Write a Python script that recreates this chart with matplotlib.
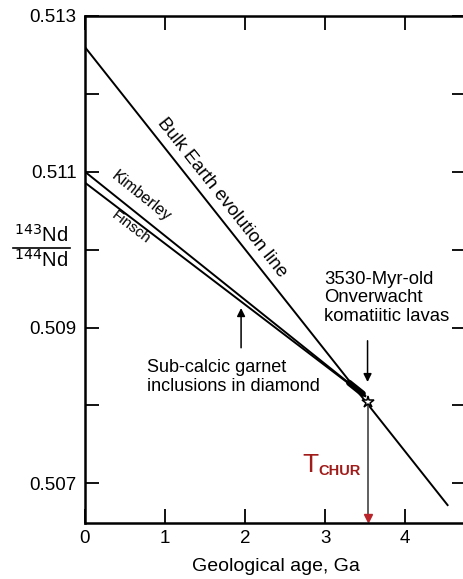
import numpy as np
import matplotlib.pyplot as plt

plt.rcParams['font.family'] = ['Liberation Sans', 'DejaVu Sans']

# data
bulk_age = [0.0, 4.53]
bulk_nd = [0.5126, 0.50672]
kimb_age = [0.0, 3.50]
kimb_nd = [0.51100, 0.50812]
finsch_age = [0.0, 3.50]
finsch_nd = [0.51086, 0.50812]
garnet_age = [3.30, 3.47]
garnet_nd = [0.50829, 0.50815]
t_chur = 3.53
t_chur_nd = 0.50805

xticks = [0, 1, 2, 3, 4]
yticks = [0.507, 0.508, 0.509, 0.510, 0.511, 0.512, 0.513]
ytick_labels = ['0.507', '', '0.509', '', '0.511', '', '0.513']

W, H = 464, 579
fig = plt.figure(figsize=(W / 100, H / 100), dpi=100)
ax = fig.add_axes([85 / W, 56 / H, 381 / W, 507 / H])

ax.set_xlim(0, 4.76)
ax.set_ylim(0.50649, 0.513)

ax.plot(bulk_age, bulk_nd, color='black', lw=1.4)
ax.plot(kimb_age, kimb_nd, color='black', lw=1.4)
ax.plot(finsch_age, finsch_nd, color='black', lw=1.4)
ax.plot(garnet_age, garnet_nd, color='black', lw=4.5, solid_capstyle='round')

# T_CHUR drop line and marker
ax.plot([t_chur, t_chur], [0.50658, t_chur_nd], color='#444444', lw=1.2)
ax.plot([t_chur], [0.50656], marker='v', ms=6, color='#b8242a', clip_on=False)
ax.plot([t_chur], [t_chur_nd], marker='*', ms=9, mfc='white', mec='black', mew=1.1)

ax.set_xticks(xticks)
ax.set_yticks(yticks)
ax.set_yticklabels(ytick_labels)
ax.tick_params(direction='in', length=10, width=1.3, labelsize=13.5,
               top=True, right=True, pad=6)
ax.tick_params(axis='x', labeltop=False, pad=5)
for s in ax.spines.values():
    s.set_linewidth(1.8)

ax.set_xlabel('Geological age, Ga', fontsize=14, labelpad=8)


def line_angle(xs, ys):
    p = ax.transData.transform(np.column_stack([xs, ys]))
    return np.degrees(np.arctan2(p[1, 1] - p[0, 1], p[1, 0] - p[0, 0]))


ax.text(1.71, 0.51066, 'Bulk Earth evolution line', fontsize=13.3,
        rotation=line_angle(bulk_age, bulk_nd), rotation_mode='anchor',
        ha='center', va='center')
ax.text(0.70, 0.51069, 'Kimberley', fontsize=11.5,
        rotation=line_angle(kimb_age, kimb_nd), rotation_mode='anchor',
        ha='center', va='center')
ax.text(0.58, 0.51028, 'Finsch', fontsize=11,
        rotation=line_angle(finsch_age, finsch_nd), rotation_mode='anchor',
        ha='center', va='center')

ax.annotate('', xy=(1.95, 0.50925), xytext=(1.95, 0.50874),
            arrowprops=dict(arrowstyle='-|>', color='black', lw=1.1,
                            mutation_scale=12, shrinkA=0, shrinkB=0))
ax.text(0.77, 0.50859, 'Sub-calcic garnet\ninclusions in diamond',
        fontsize=13, ha='left', va='top', linespacing=1.1)

ax.annotate('', xy=(t_chur, 0.50830), xytext=(t_chur, 0.50883),
            arrowprops=dict(arrowstyle='-|>', color='black', lw=1.1,
                            mutation_scale=12, shrinkA=0, shrinkB=0))
ax.text(2.99, 0.50973, '3530-Myr-old\nOnverwacht\nkomatiitic lavas',
        fontsize=13.3, ha='left', va='top', linespacing=1.12)

ax.text(2.72, 0.50714, 'T', fontsize=19, color='#a01c1a', ha='left', va='baseline')
ax.text(2.915, 0.50710, 'CHUR', fontsize=10.5, fontweight='bold', color='#a01c1a',
        ha='left', va='baseline')

# y label as stacked fraction
fig.text(41 / W, 1 - 242 / H, r'$^{143}$Nd', fontsize=14.5, ha='center', va='baseline',
         math_fontfamily='dejavusans')
fig.text(41 / W, 1 - 267 / H, r'$^{144}$Nd', fontsize=14.5, ha='center', va='baseline',
         math_fontfamily='dejavusans')
fig.add_artist(plt.Line2D([13 / W, 70 / W], [1 - 248 / H, 1 - 248 / H],
                          color='black', lw=1.2))

fig.savefig('out.png', dpi=100)
